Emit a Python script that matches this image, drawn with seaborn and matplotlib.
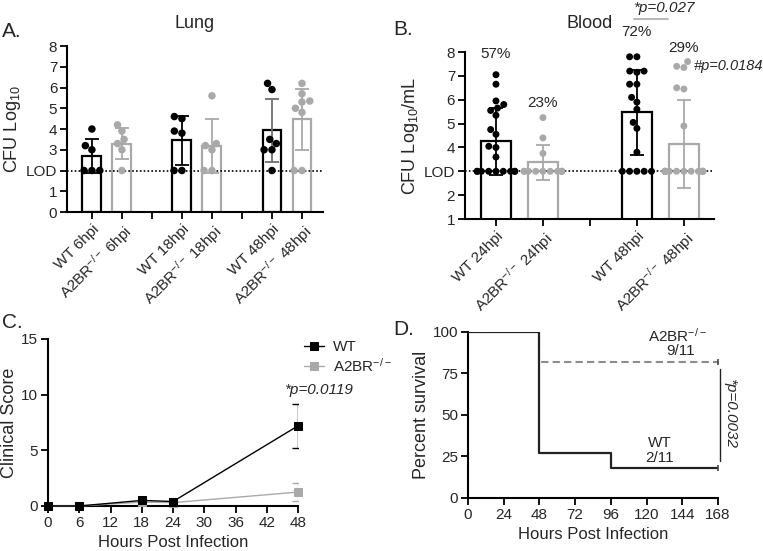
import numpy as np
import pandas as pd
import seaborn as sns
import matplotlib.pyplot as plt

sns.set_style("ticks")
plt.rcParams['font.family'] = ['Liberation Sans', 'DejaVu Sans']
plt.rcParams['mathtext.default'] = 'regular'

GRAY = '#a9a9a9'
pal = {'WT': 'black', 'A2BR': GRAY}

# ---------------- A. Lung ----------------
lung_groups = ['WT 6hpi', 'A2BR 6hpi', 'gap1', 'WT 18hpi', 'A2BR 18hpi', 'gap2', 'WT 48hpi', 'A2BR 48hpi']
lung_labels = ['WT 6hpi', 'A2BR$^{-/-}$ 6hpi', '', 'WT 18hpi', 'A2BR$^{-/-}$ 18hpi', '',
               'WT 48hpi', 'A2BR$^{-/-}$ 48hpi']
lung_bars = ['WT 6hpi', 'A2BR 6hpi', 'WT 18hpi', 'A2BR 18hpi', 'WT 48hpi', 'A2BR 48hpi']
lung_geno = ['WT', 'A2BR', 'WT', 'A2BR', 'WT', 'A2BR']
lung_mean = [2.7, 3.3, 3.47, 3.2, 3.93, 4.47]
lung_sd = [0.8, 0.75, 1.18, 1.3, 1.53, 1.48]
lung_errcol = ['black', GRAY, 'black', GRAY, '#6e6e6e', GRAY]
lung_pts = {
    'WT 6hpi': [4.0, 3.2, 3.0, 2, 2, 2],
    'A2BR 6hpi': [4.2, 3.9, 3.5, 3.3, 3.0, 2.0],
    'WT 18hpi': [4.5, 4.6, 3.9, 3.8, 2, 2],
    'A2BR 18hpi': [5.6, 3.3, 3.2, 3.0, 2, 2],
    'WT 48hpi': [6.2, 5.9, 3.5, 3.3, 3.0, 3.0, 2.0],
    'A2BR 48hpi': [6.2, 5.7, 5.35, 5.3, 5.0, 4.8, 2, 2],
}

# ---------------- B. Blood ----------------
blood_groups = ['WT 24hpi', 'A2BR 24hpi', 'gap', 'WT 48hpi', 'A2BR 48hpi']
blood_labels = ['WT 24hpi', 'A2BR$^{-/-}$ 24hpi', '', 'WT 48hpi', 'A2BR$^{-/-}$ 48hpi']
blood_bars = ['WT 24hpi', 'A2BR 24hpi', 'WT 48hpi', 'A2BR 48hpi']
blood_geno = ['WT', 'A2BR', 'WT', 'A2BR']
blood_mean = [4.25, 3.37, 5.47, 4.15]
blood_sd = [1.4, 0.75, 1.78, 1.84]
blood_errcol = ['black', GRAY, 'black', GRAY]
blood_pct = ['57%', '23%', '72%', '29%']
blood_pts = {
    'WT 24hpi': [7.05, 6.65, 5.95, 5.8, 5.65, 5.55, 5.35, 4.75, 4.55, 4.05, 4.0, 3.6] + [3.0] * 9,
    'A2BR 24hpi': [5.25, 4.4, 3.75] + [3.0] * 10,
    'WT 48hpi': [7.8, 7.8, 7.2, 7.2, 7.15, 6.65, 6.65, 6.1, 5.9, 5.6, 5.05, 4.8, 3.8] + [3.0] * 5,
    'A2BR 48hpi': [7.6, 7.4, 7.35, 6.5, 6.45, 4.9] + [3.0] * 15,
}

# ---------------- C. Clinical score ----------------
hours = [0, 6, 18, 24, 48]
wt_score = [0, 0, 0.5, 0.4, 7.2]
ko_score = [0, 0, 0.35, 0.3, 1.25]
wt_err48 = 1.95
ko_err48 = 0.8

# ---------------- D. Survival ----------------
wt_time = [0, 48, 96, 168]
wt_surv = [100, 27.3, 18.2, 18.2]
ko_time = [0, 48, 168]
ko_surv = [100, 81.8, 81.8]

TICK_FS = 11
ANN_FS = 11


def style_ax(ax, fs=TICK_FS):
    sns.despine(ax=ax)
    for s in ['left', 'bottom']:
        ax.spines[s].set_linewidth(1.5)
        ax.spines[s].set_color('black')
    ax.tick_params(width=1.3, length=5, labelsize=fs, color='black', pad=2)


def bar_panel(ax, groups, labels, bars, geno, mean, sd, errcol, pts, lod, dot):
    bdf = pd.DataFrame({'group': bars, 'mean': mean, 'geno': geno})
    sns.barplot(data=bdf, x='group', y='mean', order=groups, hue='geno', palette=pal,
                fill=False, dodge=False, width=0.63, linewidth=1.6, errorbar=None,
                legend=False, ax=ax)
    for g, m, s, c in zip(bars, mean, sd, errcol):
        ax.errorbar(groups.index(g), m, yerr=s, fmt='none', ecolor=c, elinewidth=1.3,
                    capsize=5, capthick=1.3, zorder=3)
    rows = [(g, v, 'WT' if g.startswith('WT') else 'A2BR') for g, vals in pts.items() for v in vals]
    pdf = pd.DataFrame(rows, columns=['group', 'value', 'geno'])
    sns.swarmplot(data=pdf, x='group', y='value', order=groups, hue='geno', palette=pal,
                  size=dot, legend=False, warn_thresh=1, ax=ax, zorder=4)
    ax.axhline(lod, ls=(0, (1, 1.3)), color='black', lw=1.2, zorder=2)
    ax.set_xticks(range(len(groups)))
    ax.set_xticklabels(labels, rotation=45, ha='right', rotation_mode='anchor', fontsize=10.5)
    ax.set_xlabel('')


fig = plt.figure(figsize=(7.63, 5.51), dpi=100)

# A
axA = fig.add_axes([0.0878, 0.6152, 0.3355, 0.3013])
bar_panel(axA, lung_groups, lung_labels, lung_bars, lung_geno, lung_mean, lung_sd,
          lung_errcol, lung_pts, 2, 5.4)
axA.set_ylim(0, 8)
axA.set_xlim(-0.83, 7.7)
axA.set_yticks(range(9))
axA.set_yticklabels(['0', '1', 'LOD', '3', '4', '5', '6', '7', '8'])
axA.set_ylabel('CFU Log$_{10}$', fontsize=13, labelpad=2)
axA.set_title('Lung', fontsize=13, pad=13)
style_ax(axA)

# B
axB = fig.add_axes([0.6094, 0.6025, 0.3263, 0.3031])
bar_panel(axB, blood_groups, blood_labels, blood_bars, blood_geno, blood_mean, blood_sd,
          blood_errcol, blood_pts, 3, 5.0)
axB.set_ylim(1, 8)
axB.set_xlim(-0.66, 4.64)
axB.set_yticks(range(1, 9))
axB.set_yticklabels(['1', '2', 'LOD', '4', '5', '6', '7', '8'])
axB.set_ylabel('CFU Log$_{10}$/mL', fontsize=13, labelpad=2)
axB.set_title('Blood', fontsize=13, pad=17)
style_ax(axB)
pct_y = [7.92, 5.87, 8.84, 8.17]
for g, t, y in zip(blood_bars, blood_pct, pct_y):
    axB.text(blood_groups.index(g), y, t, ha='center', va='center', fontsize=ANN_FS, clip_on=False)
axB.text(4.22, 7.42, '#p=0.0184', ha='left', va='center', fontsize=10.5, style='italic', clip_on=False)
axB.plot([2.94, 3.67], [9.38, 9.38], color=GRAY, lw=1.2, clip_on=False)
axB.text(3.58, 9.85, '*p=0.027', ha='center', va='center', fontsize=ANN_FS, style='italic', clip_on=False)

# C
axC = fig.add_axes([0.0629, 0.0817, 0.3277, 0.3031])
sns.lineplot(x=hours, y=ko_score, color=GRAY, marker='s', markersize=6, mec=GRAY, lw=1,
             label='A2BR$^{-/-}$', ax=axC, clip_on=False, zorder=3)
sns.lineplot(x=hours, y=wt_score, color='black', marker='s', markersize=6, mec='black', lw=1,
             label='WT', ax=axC, clip_on=False, zorder=4)
axC.errorbar(hours[-1], wt_score[-1], yerr=wt_err48, fmt='none', ecolor='black',
             elinewidth=1, capsize=4, capthick=1)
axC.errorbar(hours[-1], ko_score[-1], yerr=ko_err48, fmt='none', ecolor=GRAY,
             elinewidth=1, capsize=4, capthick=1)
axC.set_xlim(0, 48)
axC.set_ylim(0, 15)
axC.set_xticks(range(0, 49, 6))
axC.set_yticks([0, 5, 10, 15])
axC.set_xlabel('Hours Post Infection', fontsize=12)
axC.set_ylabel('Clinical Score', fontsize=13, labelpad=2)
h, l = axC.get_legend_handles_labels()
axC.legend(h[::-1], l[::-1], frameon=False, fontsize=ANN_FS, loc='upper left',
           bbox_to_anchor=(1.0, 1.03), handlelength=1.3, handletextpad=0.6,
           labelspacing=0.15, borderaxespad=0)
axC.text(52, 10.4, '*p=0.0119', ha='center', va='center', fontsize=ANN_FS, style='italic')
style_ax(axC)

# D
axD = fig.add_axes([0.6134, 0.0962, 0.3277, 0.3013])
sns.lineplot(x=ko_time, y=ko_surv, color='#8c8c8c', lw=1.5, ls=(0, (3.5, 2)),
             drawstyle='steps-post', ax=axD, zorder=3)
sns.lineplot(x=wt_time, y=wt_surv, color='#222222', lw=1.6, drawstyle='steps-post', ax=axD, zorder=4)
axD.plot([ko_time[-1], wt_time[-1]], [ko_surv[-1], wt_surv[-1]], ls='none', marker='|',
         ms=4, mew=1.2, color='#444444', clip_on=False, zorder=5)
axD.plot([169, 169], [78, 22], color='#222222', lw=1, clip_on=False)
axD.text(176, 51, '*p=0.0032', rotation=270, ha='center', va='center', fontsize=ANN_FS,
         style='italic', clip_on=False)
axD.text(141, 97.5, 'A2BR$^{-/-}$', ha='center', va='center', fontsize=ANN_FS)
axD.text(143, 88.5, '9/11', ha='center', va='center', fontsize=ANN_FS)
axD.text(129, 33, 'WT', ha='center', va='center', fontsize=ANN_FS)
axD.text(129, 24, '2/11', ha='center', va='center', fontsize=ANN_FS)
axD.set_xlim(0, 168)
axD.set_ylim(0, 100)
axD.set_xticks(range(0, 169, 24))
axD.set_yticks([0, 25, 50, 75, 100])
axD.set_xlabel('Hours Post Infection', fontsize=12)
axD.set_ylabel('Percent survival', fontsize=13, labelpad=2)
style_ax(axD)

# panel letters
fig.text(0.003, 0.933, 'A.', fontsize=15, va='baseline')
fig.text(0.515, 0.936, 'B.', fontsize=15, va='baseline')
fig.text(0.003, 0.405, 'C.', fontsize=15, va='baseline')
fig.text(0.515, 0.392, 'D.', fontsize=15, va='baseline')

fig.savefig('out.png', dpi=100)
